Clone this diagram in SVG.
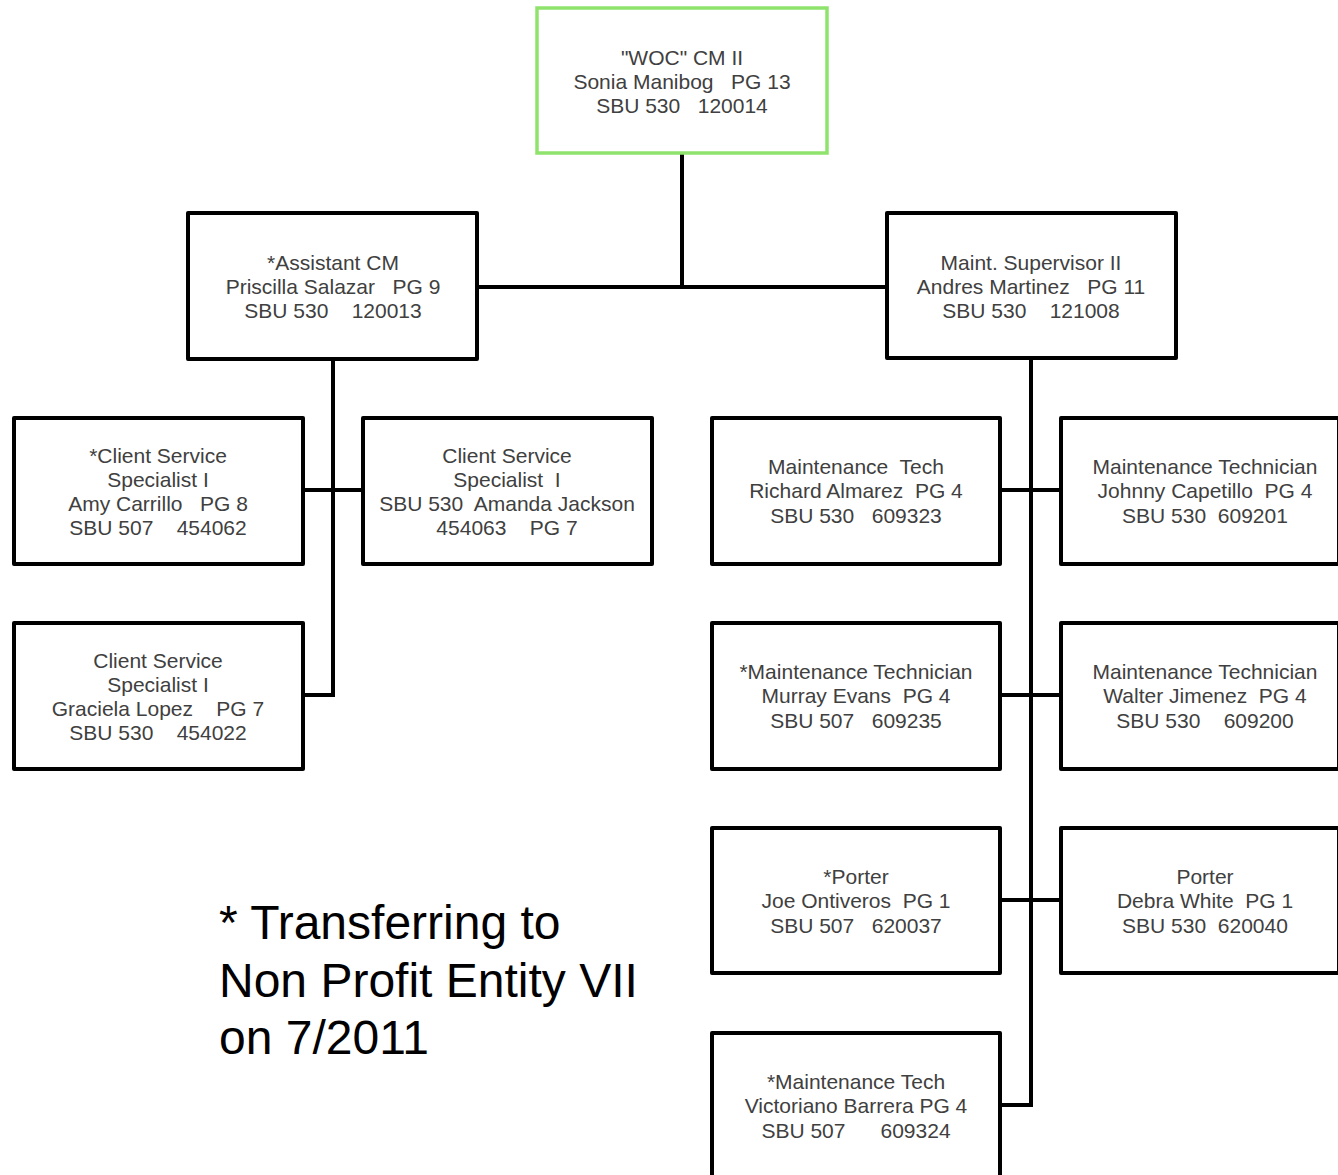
<svg xmlns="http://www.w3.org/2000/svg" width="1338" height="1175" viewBox="0 0 1338 1175">
<style>
.box{fill:#fff;stroke:#000;stroke-width:4;stroke-linejoin:round}
.top{fill:#fff;stroke:#8fe36c;stroke-width:3.5}
.t{font-family:"Liberation Sans",Arial,sans-serif;font-size:21px;fill:#404040;text-anchor:middle;white-space:pre}
.note{font-family:"Liberation Sans",Arial,sans-serif;font-size:48px;fill:#000}
.c{fill:none;stroke:#000;stroke-width:4}
</style>
<rect width="1338" height="1175" fill="#fff"/>
<g id="connectors">
<path class="c" d="M682,153 V287 M477,287 H887"/>
<path class="c" d="M333,359 V695 M303,490 H363 M303,695 H335"/>
<path class="c" d="M1031,358 V1107 M1000,490 H1061 M1000,695 H1061 M1000,900 H1061 M1000,1105 H1033"/>
</g>
<g id="woc">
<rect class="top" x="537" y="8" width="290" height="145"/>
<text class="t" x="682" y="65">"WOC" CM II</text>
<text class="t" x="682" y="89">Sonia Manibog   PG 13</text>
<text class="t" x="682" y="113">SBU 530   120014</text>
</g>
<g id="assistant">
<rect class="box" x="188" y="213" width="289" height="146"/>
<text class="t" x="333" y="270">*Assistant CM</text>
<text class="t" x="333" y="294">Priscilla Salazar   PG 9</text>
<text class="t" x="333" y="318">SBU 530    120013</text>
</g>
<g id="maintsup">
<rect class="box" x="887" y="213" width="289" height="145"/>
<text class="t" x="1031" y="270">Maint. Supervisor II</text>
<text class="t" x="1031" y="294">Andres Martinez   PG 11</text>
<text class="t" x="1031" y="318">SBU 530    121008</text>
</g>
<g id="cs1">
<rect class="box" x="14" y="418" width="289" height="146"/>
<text class="t" x="158" y="463">*Client Service</text>
<text class="t" x="158" y="487">Specialist I</text>
<text class="t" x="158" y="511">Amy Carrillo   PG 8</text>
<text class="t" x="158" y="535">SBU 507    454062</text>
</g>
<g id="cs2">
<rect class="box" x="363" y="418" width="289" height="146"/>
<text class="t" x="507" y="463">Client Service</text>
<text class="t" x="507" y="487">Specialist  I</text>
<text class="t" x="507" y="511">SBU 530  Amanda Jackson</text>
<text class="t" x="507" y="535">454063    PG 7</text>
</g>
<g id="cs3">
<rect class="box" x="14" y="623" width="289" height="146"/>
<text class="t" x="158" y="668">Client Service</text>
<text class="t" x="158" y="692">Specialist I</text>
<text class="t" x="158" y="716">Graciela Lopez    PG 7</text>
<text class="t" x="158" y="740">SBU 530    454022</text>
</g>
<g id="richard">
<rect class="box" x="712" y="418" width="288" height="146"/>
<text class="t" x="856" y="474">Maintenance  Tech</text>
<text class="t" x="856" y="498">Richard Almarez  PG 4</text>
<text class="t" x="856" y="523">SBU 530   609323</text>
</g>
<g id="johnny">
<rect class="box" x="1061" y="418" width="278" height="146"/>
<text class="t" x="1205" y="474">Maintenance Technician</text>
<text class="t" x="1205" y="498">Johnny Capetillo  PG 4</text>
<text class="t" x="1205" y="523">SBU 530  609201</text>
</g>
<g id="murray">
<rect class="box" x="712" y="623" width="288" height="146"/>
<text class="t" x="856" y="679">*Maintenance Technician</text>
<text class="t" x="856" y="703">Murray Evans  PG 4</text>
<text class="t" x="856" y="728">SBU 507   609235</text>
</g>
<g id="walter">
<rect class="box" x="1061" y="623" width="278" height="146"/>
<text class="t" x="1205" y="679">Maintenance Technician</text>
<text class="t" x="1205" y="703">Walter Jimenez  PG 4</text>
<text class="t" x="1205" y="728">SBU 530    609200</text>
</g>
<g id="joe">
<rect class="box" x="712" y="828" width="288" height="145"/>
<text class="t" x="856" y="884">*Porter</text>
<text class="t" x="856" y="908">Joe Ontiveros  PG 1</text>
<text class="t" x="856" y="933">SBU 507   620037</text>
</g>
<g id="debra">
<rect class="box" x="1061" y="828" width="278" height="145"/>
<text class="t" x="1205" y="884">Porter</text>
<text class="t" x="1205" y="908">Debra White  PG 1</text>
<text class="t" x="1205" y="933">SBU 530  620040</text>
</g>
<g id="victoriano">
<rect class="box" x="712" y="1033" width="288" height="146"/>
<text class="t" x="856" y="1089">*Maintenance Tech</text>
<text class="t" x="856" y="1113">Victoriano Barrera PG 4</text>
<text class="t" x="856" y="1138">SBU 507      609324</text>
</g>
<g id="footnote">
<text class="note" x="219" y="939">* Transferring to</text>
<text class="note" x="219" y="997">Non Profit Entity VII</text>
<text class="note" x="219" y="1054">on 7/2011</text>
</g>
</svg>
